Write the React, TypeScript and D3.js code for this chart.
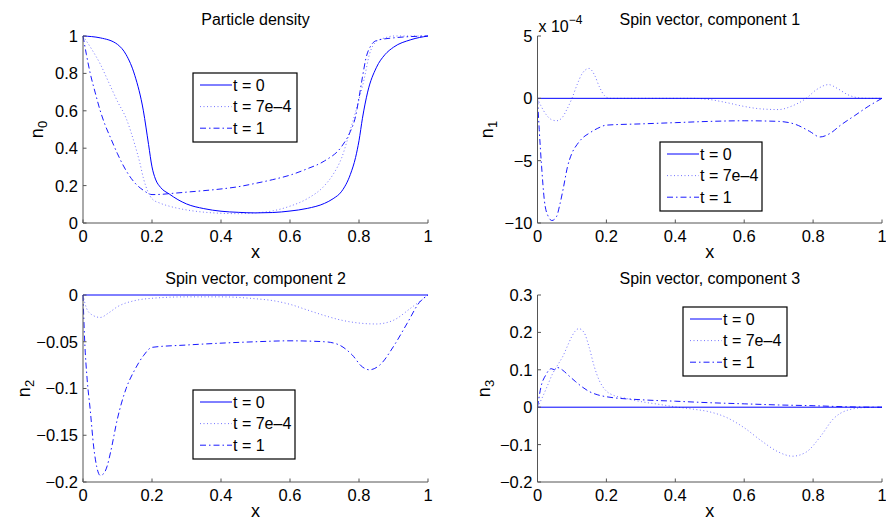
import React from "react";
import * as d3 from "d3";

type Pt = [number, number];

const xTicks = [0, 0.2, 0.4, 0.6, 0.8, 1];
const legendLabels = ["t = 0", "t = 7e\u20134", "t = 1"];

// Panel 1: particle density n0
const n0Ticks = [0, 0.2, 0.4, 0.6, 0.8, 1];
const n0_t0: Pt[] = [[0,1],[0.05,0.99],[0.1,0.955],[0.125,0.9],[0.15,0.79],[0.175,0.6],[0.19,0.42],[0.2,0.3],[0.21,0.235],[0.225,0.19],[0.25,0.155],[0.275,0.125],[0.3,0.102],[0.35,0.077],[0.4,0.063],[0.45,0.057],[0.5,0.054],[0.55,0.056],[0.6,0.064],[0.65,0.078],[0.7,0.105],[0.725,0.13],[0.75,0.17],[0.775,0.26],[0.79,0.35],[0.8,0.44],[0.81,0.56],[0.825,0.7],[0.85,0.83],[0.875,0.9],[0.9,0.94],[0.95,0.98],[1,1]];
const n0_t1: Pt[] = [[0,1],[0.025,0.93],[0.05,0.85],[0.075,0.75],[0.1,0.65],[0.125,0.56],[0.15,0.42],[0.165,0.32],[0.175,0.24],[0.19,0.16],[0.2,0.13],[0.225,0.105],[0.25,0.09],[0.3,0.07],[0.35,0.058],[0.4,0.052],[0.45,0.05],[0.5,0.054],[0.55,0.065],[0.6,0.09],[0.65,0.13],[0.7,0.2],[0.725,0.26],[0.75,0.35],[0.775,0.5],[0.8,0.66],[0.815,0.77],[0.83,0.9],[0.85,0.97],[0.875,0.99],[0.9,1],[1,1]];
const n0_t2: Pt[] = [[0,1],[0.01,0.9],[0.021,0.8],[0.035,0.7],[0.05,0.6],[0.065,0.52],[0.08,0.455],[0.1,0.37],[0.125,0.28],[0.15,0.215],[0.175,0.175],[0.2,0.152],[0.225,0.153],[0.25,0.157],[0.3,0.165],[0.35,0.173],[0.4,0.182],[0.45,0.194],[0.5,0.212],[0.55,0.232],[0.6,0.256],[0.65,0.29],[0.7,0.332],[0.75,0.41],[0.775,0.49],[0.79,0.57],[0.8,0.67],[0.81,0.78],[0.82,0.88],[0.835,0.95],[0.85,0.975],[0.9,0.99],[1,1]];

// Panel 2: spin component 1 (units of 1e-4)
const n1Ticks = [-10, -5, 0, 5];
const n1_t0: Pt[] = [[0,0],[1,0]];
const n1_t1: Pt[] = [[0,0],[0.01,-0.6],[0.025,-1.3],[0.04,-1.7],[0.055,-1.8],[0.07,-1.6],[0.085,-0.9],[0.1,0],[0.115,1.1],[0.13,2.0],[0.15,2.4],[0.165,1.9],[0.18,0.9],[0.195,0.2],[0.21,0],[0.3,0],[0.45,0],[0.5,-0.1],[0.55,-0.35],[0.6,-0.65],[0.65,-0.85],[0.7,-0.9],[0.74,-0.6],[0.78,0],[0.81,0.7],[0.845,1.1],[0.87,0.8],[0.9,0.3],[0.93,0.05],[0.96,0],[1,0]];
const n1_t2: Pt[] = [[0,0],[0.005,-2.5],[0.012,-5.5],[0.02,-8.2],[0.03,-9.4],[0.042,-9.8],[0.055,-9.5],[0.065,-8.5],[0.075,-7.2],[0.087,-5.5],[0.1,-4.4],[0.115,-3.7],[0.13,-3.2],[0.15,-2.8],[0.175,-2.4],[0.2,-2.15],[0.3,-2.05],[0.4,-1.95],[0.5,-1.85],[0.6,-1.8],[0.7,-1.85],[0.75,-2.1],[0.79,-2.65],[0.82,-3.1],[0.85,-2.8],[0.88,-2.15],[0.92,-1.4],[0.96,-0.65],[1,0]];

// Panel 3: spin component 2
const n2Ticks = [-0.2, -0.15, -0.1, -0.05, 0];
const n2_t0: Pt[] = [[0,0],[1,0]];
const n2_t1: Pt[] = [[0,0],[0.01,-0.014],[0.025,-0.021],[0.05,-0.024],[0.075,-0.019],[0.1,-0.0125],[0.15,-0.006],[0.2,-0.0035],[0.3,-0.002],[0.4,-0.002],[0.5,-0.004],[0.55,-0.006],[0.6,-0.01],[0.65,-0.016],[0.7,-0.022],[0.75,-0.027],[0.8,-0.03],[0.85,-0.031],[0.9,-0.027],[0.95,-0.014],[1,0]];
const n2_t2: Pt[] = [[0,0],[0.005,-0.05],[0.012,-0.09],[0.021,-0.123],[0.031,-0.1625],[0.04,-0.184],[0.05,-0.193],[0.06,-0.191],[0.07,-0.183],[0.08,-0.168],[0.1,-0.132],[0.125,-0.1],[0.15,-0.08],[0.175,-0.065],[0.2,-0.056],[0.3,-0.0535],[0.4,-0.0515],[0.5,-0.05],[0.6,-0.049],[0.7,-0.05],[0.74,-0.053],[0.78,-0.064],[0.81,-0.077],[0.83,-0.08],[0.86,-0.075],[0.9,-0.055],[0.94,-0.03],[0.975,-0.008],[1,0]];

// Panel 4: spin component 3
const n3Ticks = [-0.2, -0.1, 0, 0.1, 0.2, 0.3];
const n3_t0: Pt[] = [[0,0],[1,0]];
const n3_t1: Pt[] = [[0,0],[0.015,0.028],[0.03,0.06],[0.044,0.09],[0.06,0.115],[0.073,0.135],[0.09,0.17],[0.1,0.19],[0.12,0.21],[0.135,0.2],[0.15,0.16],[0.165,0.108],[0.18,0.07],[0.19,0.054],[0.2,0.043],[0.22,0.032],[0.25,0.025],[0.3,0.015],[0.35,0.008],[0.4,0.001],[0.45,-0.005],[0.5,-0.0125],[0.55,-0.028],[0.6,-0.055],[0.65,-0.09],[0.7,-0.12],[0.74,-0.131],[0.78,-0.12],[0.82,-0.08],[0.86,-0.03],[0.9,-0.008],[0.95,-0.001],[1,0]];
const n3_t2: Pt[] = [[0,0],[0.01,0.054],[0.024,0.086],[0.04,0.103],[0.05,0.1],[0.058,0.106],[0.073,0.099],[0.09,0.085],[0.111,0.068],[0.13,0.054],[0.15,0.042],[0.175,0.033],[0.2,0.028],[0.3,0.02],[0.4,0.016],[0.5,0.012],[0.6,0.009],[0.7,0.006],[0.8,0.004],[0.9,0.001],[1,0]];

const FONT = "'Liberation Sans', Arial, Helvetica, sans-serif";
const BLUE = "#0000ff";
const STYLES = [
  { stroke: BLUE, width: 1, dash: undefined as string | undefined, opacity: 1 },
  { stroke: BLUE, width: 1, dash: "1,2.5", opacity: 0.55 },
  { stroke: BLUE, width: 1, dash: "6,3,1.5,3", opacity: 0.9 },
];

const fmt = (v: number) => String(+v.toFixed(3)).replace("-", "\u2212");

interface PanelProps {
  x0: number; x1: number; y0: number; y1: number;
  yDomain: [number, number]; yTicks: number[];
  title: string; sub: string; ylabX: number;
  series: Pt[][];
  legX: number; legY: number; legW: number;
  exponent?: boolean;
}

function Panel(p: PanelProps) {
  const xs = d3.scaleLinear().domain([0, 1]).range([p.x0, p.x1]);
  const ys = d3.scaleLinear().domain(p.yDomain).range([p.y1, p.y0]);
  const line = d3.line<Pt>().x(d => xs(d[0])).y(d => ys(d[1])).curve(d3.curveMonotoneX);
  const tl = 3.5;
  const rowH = 21.6;
  const legH = 69;
  return (
    <g fontFamily={FONT} fontSize={16} fill="#000">
      <text x={(p.x0 + p.x1) / 2} y={p.y0 - 11} textAnchor="middle">{p.title}</text>
      {p.series.map((s, i) => (
        <path key={i} d={line(s) || ""} fill="none" stroke={STYLES[i].stroke}
          strokeWidth={STYLES[i].width} strokeDasharray={STYLES[i].dash} strokeOpacity={STYLES[i].opacity} />
      ))}
      <line x1={p.x0} x2={p.x0} y1={p.y0} y2={p.y1} stroke="#555" strokeWidth={1} />
      <line x1={p.x0} x2={p.x1} y1={p.y1} y2={p.y1} stroke="#555" strokeWidth={1} />
      {xTicks.map(v => (
        <g key={"x" + v}>
          <line x1={xs(v)} x2={xs(v)} y1={p.y1} y2={p.y1 - tl} stroke="#555" />
          <text x={xs(v)} y={p.y1 + 19} textAnchor="middle" fontSize={16.5}>{fmt(v)}</text>
        </g>
      ))}
      {p.yTicks.map(v => (
        <g key={"y" + v}>
          <line x1={p.x0} x2={p.x0 + tl} y1={ys(v)} y2={ys(v)} stroke="#555" />
          <text x={p.x0 - 5} y={ys(v)} dy="0.36em" textAnchor="end" fontSize={16.5}>{fmt(v)}</text>
        </g>
      ))}
      <text x={(p.x0 + p.x1) / 2} y={p.y1 + 35} textAnchor="middle" fontSize={18}>x</text>
      <text transform={`translate(${p.ylabX},${(p.y0 + p.y1) / 2}) rotate(-90)`} textAnchor="middle" fontSize={18}>
        <tspan>n</tspan><tspan dy={4} fontSize={13}>{p.sub}</tspan>
      </text>
      {p.exponent && (
        <text x={p.x0 + 1} y={p.y0 - 4}>
          <tspan>x 10</tspan><tspan dy={-8} fontSize={12}>{"\u22124"}</tspan>
        </text>
      )}
      <g>
        <rect x={p.legX} y={p.legY} width={p.legW} height={legH} fill="#fff" stroke="#000" strokeWidth={1.2} />
        {legendLabels.map((lab, i) => {
          const cy = p.legY + 12 + i * rowH;
          return (
            <g key={lab}>
              <line x1={p.legX + 7} x2={p.legX + 39} y1={cy} y2={cy} stroke={STYLES[i].stroke}
                strokeWidth={STYLES[i].width} strokeDasharray={STYLES[i].dash} strokeOpacity={STYLES[i].opacity} />
              <text x={p.legX + 40} y={cy} dy="0.36em">{lab}</text>
            </g>
          );
        })}
      </g>
    </g>
  );
}

export default function App() {
  return (
    <svg width={886} height={520} style={{ display: "block", position: "absolute", left: 0, top: 0 }}>
      <rect width={886} height={520} fill="#fff" />
      <Panel x0={83} x1={428} y0={36} y1={223} yDomain={[0, 1]} yTicks={n0Ticks}
        title="Particle density" sub="0" ylabX={43} series={[n0_t0, n0_t1, n0_t2]}
        legX={193} legY={73} legW={104} />
      <Panel x0={537.5} x1={882} y0={36} y1={223} yDomain={[-10, 5]} yTicks={n1Ticks}
        title="Spin vector, component 1" sub="1" ylabX={493} series={[n1_t0, n1_t1, n1_t2]}
        legX={660} legY={142} legW={102} exponent />
      <Panel x0={83} x1={428} y0={295} y1={482} yDomain={[-0.2, 0]} yTicks={n2Ticks}
        title="Spin vector, component 2" sub="2" ylabX={30} series={[n2_t0, n2_t1, n2_t2]}
        legX={193} legY={390} legW={102} />
      <Panel x0={537.5} x1={882} y0={295} y1={482} yDomain={[-0.2, 0.3]} yTicks={n3Ticks}
        title="Spin vector, component 3" sub="3" ylabX={490} series={[n3_t0, n3_t1, n3_t2]}
        legX={683} legY={307} legW={104} />
    </svg>
  );
}
